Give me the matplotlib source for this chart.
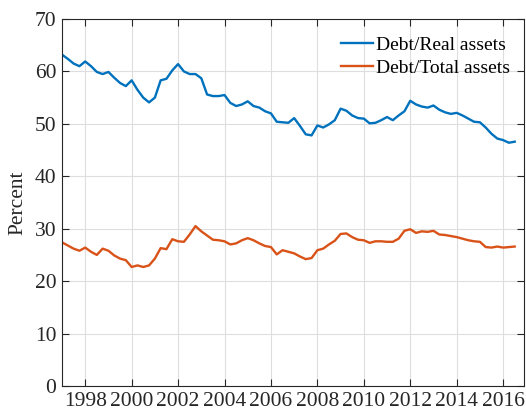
import numpy as np
import matplotlib
matplotlib.use("Agg")
import matplotlib.pyplot as plt

# Quarterly observations, 1997Q1 .. 2016Q3
start_year = 1997.0
debt_real_assets = [
    63.2, 62.4, 61.5, 61.0,
    61.9, 61.0, 59.9, 59.5,
    59.9, 58.8, 57.8, 57.2,
    58.3, 56.5, 55.0, 54.1,
    55.0, 58.3, 58.6, 60.2,
    61.4, 60.0, 59.5, 59.5,
    58.7, 55.6, 55.3, 55.3,
    55.5, 54.0, 53.4, 53.7,
    54.3, 53.4, 53.1, 52.4,
    52.0, 50.4, 50.3, 50.2,
    51.1, 49.6, 48.0, 47.8,
    49.7, 49.3, 49.9, 50.7,
    52.9, 52.5, 51.6, 51.1,
    51.0, 50.1, 50.2, 50.7,
    51.3, 50.7, 51.6, 52.4,
    54.4, 53.7, 53.3, 53.1,
    53.5, 52.7, 52.2, 51.9,
    52.1, 51.6, 51.0, 50.4,
    50.3, 49.3, 48.1, 47.2,
    46.9, 46.4, 46.6,
]
debt_total_assets = [
    27.4, 26.8, 26.2, 25.8,
    26.4, 25.6, 25.0, 26.2,
    25.8, 24.9, 24.3, 24.0,
    22.7, 23.0, 22.7, 23.0,
    24.3, 26.3, 26.1, 28.0,
    27.6, 27.5, 28.9, 30.5,
    29.5, 28.7, 27.9, 27.8,
    27.6, 27.0, 27.2, 27.8,
    28.2, 27.8, 27.2, 26.7,
    26.5, 25.1, 25.9, 25.6,
    25.3, 24.7, 24.2, 24.4,
    25.9, 26.2, 27.0, 27.7,
    29.0, 29.1, 28.4, 27.9,
    27.8, 27.3, 27.6, 27.6,
    27.5, 27.5, 28.1, 29.6,
    29.9, 29.2, 29.5, 29.4,
    29.6, 28.9, 28.8, 28.6,
    28.4, 28.1, 27.8, 27.6,
    27.5, 26.5, 26.4, 26.6,
    26.4, 26.5, 26.6,
]
series_labels = ["Debt/Real assets", "Debt/Total assets"]
x_ticks = list(range(1998, 2017, 2))
y_ticks = list(range(0, 71, 10))
y_label = "Percent"

years = start_year + 0.25 * np.arange(len(debt_real_assets))

plt.rcParams["font.family"] = ["Liberation Serif", "DejaVu Serif"]

W, H = 526, 413
fig = plt.figure(figsize=(W / 100, H / 100), dpi=100)
ax = fig.add_axes([62 / W, 1 - 386 / H, (524 - 62) / W, (386 - 19) / H])

ax.plot(years, debt_real_assets, color="#0072BD", lw=1.7, label=series_labels[0])
ax.plot(years, debt_total_assets, color="#D95319", lw=1.7, label=series_labels[1])

ax.set_xlim(1997.0, 2016.9)
ax.set_ylim(0, 70)
ax.set_xticks(x_ticks)
ax.set_yticks(y_ticks)
ax.set_xticklabels([str(t) for t in x_ticks])
ax.grid(True, color="#dedede", lw=0.8)
ax.set_axisbelow(True)

for s in ax.spines.values():
    s.set_color("#262626")
    s.set_linewidth(0.8)
ax.tick_params(direction="in", length=5, width=0.8, color="#262626",
               top=True, right=True, labelsize=15.5, labelcolor="#262626", pad=4)
ax.set_ylabel(y_label, fontsize=15.5, color="#262626", labelpad=5)

leg = ax.legend(loc="upper right", bbox_to_anchor=(0.996, 0.985),
                frameon=False, fontsize=14,
                handlelength=1.65, handletextpad=0.2, labelspacing=0.3,
                borderaxespad=0.2)

fig.savefig("out.png", dpi=100)
